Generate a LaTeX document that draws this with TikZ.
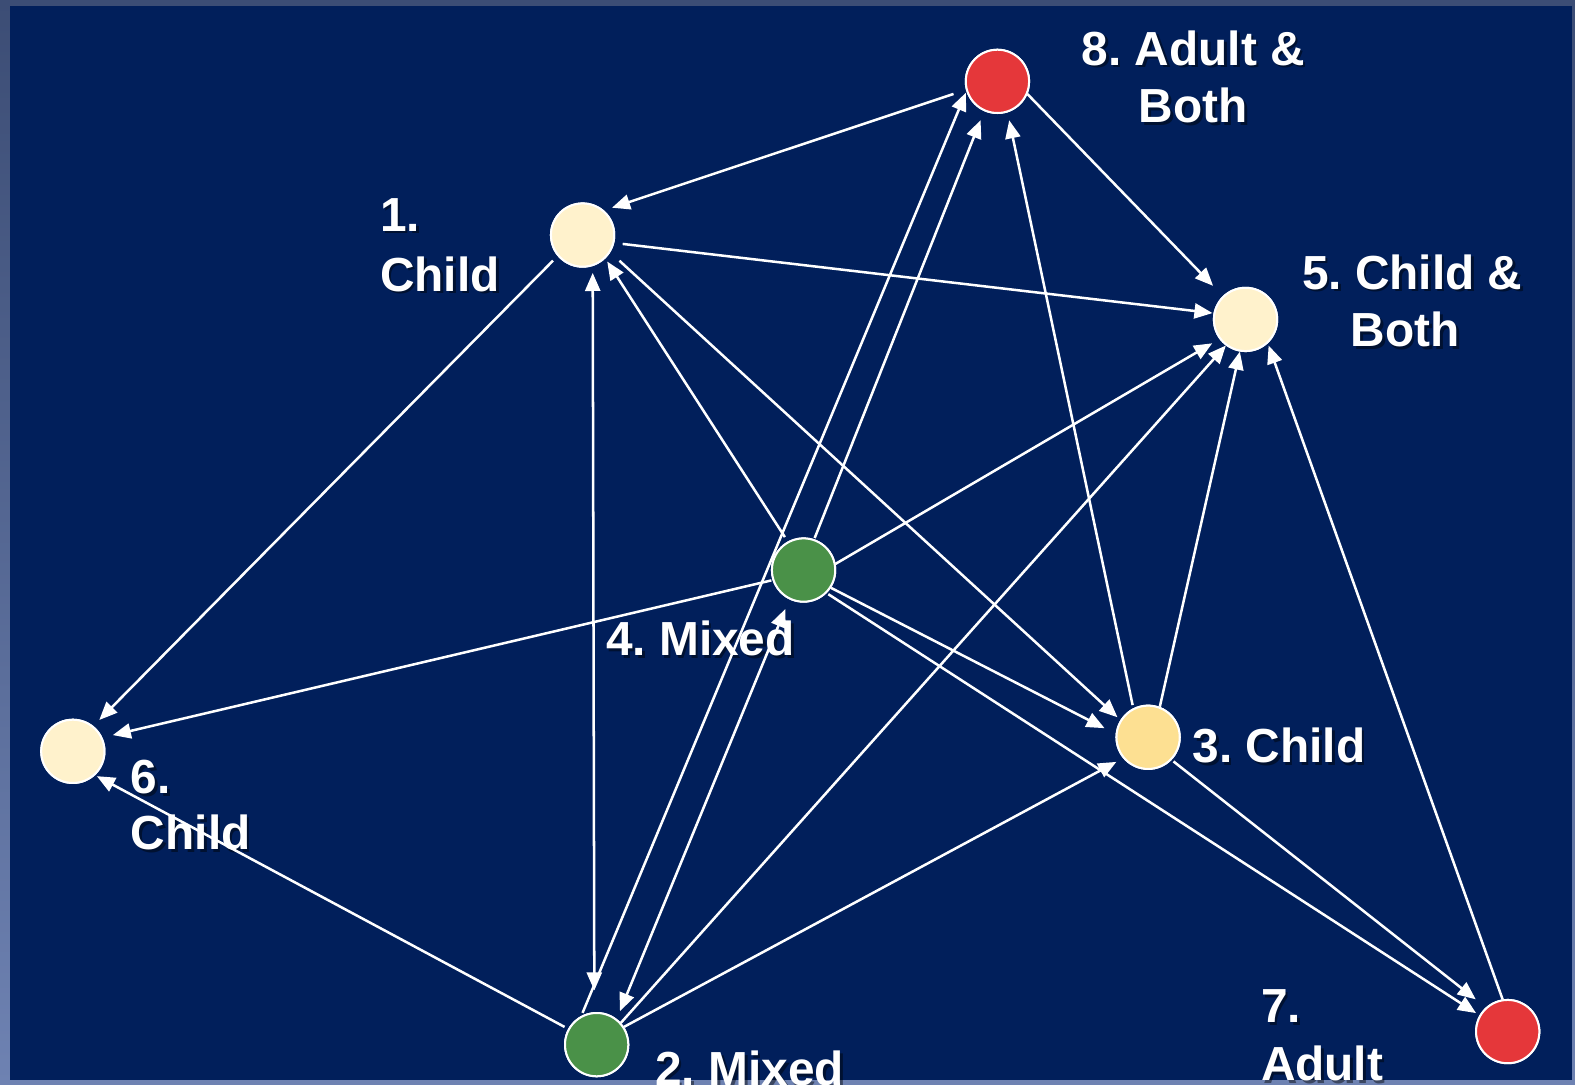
\documentclass[tikz,border=0pt]{standalone}
\usepackage{fontspec}
\setmainfont{Liberation Sans}
\usetikzlibrary{arrows.meta}
\definecolor{bgdark}{HTML}{011F5B}
\definecolor{frametop}{HTML}{3C4D75}
\definecolor{framebot}{HTML}{6E82B2}
\definecolor{creamc}{HTML}{FFF2CC}
\definecolor{yellowc}{HTML}{FDE092}
\definecolor{greenc}{HTML}{4A9148}
\definecolor{redc}{HTML}{E5373A}
\frenchspacing
\newcommand\mylbl[4]{%
  \node[shd,anchor=#3,xshift=1.3pt,yshift=-1.3pt] (#1s) at (#2) {#4};
  \node[lbl,anchor=#3] (#1) at (#2) {#4};}
\begin{document}
\begin{tikzpicture}[x=0.5pt,y=-0.5pt,
  vtx/.style={circle, draw=white, line width=1pt, minimum size=31.5pt, inner sep=0pt},
  creamv/.style={vtx, fill=creamc},
  yellowv/.style={vtx, fill=yellowc},
  greenv/.style={vtx, fill=greenc},
  redv/.style={vtx, fill=redc},
  edge/.style={draw=white, line width=1.25pt, -{Triangle[length=9pt,width=7.5pt]}},
  bothedge/.style={draw=white, line width=1.25pt, {Triangle[length=9pt,width=7.5pt]}-{Triangle[length=9pt,width=7.5pt]}},
  lbl/.style={text=white, font=\fontsize{23.8}{28.5}\selectfont\bfseries\frenchspacing, inner sep=0pt},
  shd/.style={lbl, text=black, text opacity=0.45}
]
% background and frame
\useasboundingbox (0,0) rectangle (1568,1080);
\shade[top color=frametop, bottom color=framebot] (0,0) rectangle (1568,1080);
\fill[bgdark] (10,6) rectangle (1565,1075);

% labels
\mylbl{l8a}{1188,65}{base}{8. Adult \&}
\mylbl{l8b}{1188,122}{base}{Both}
\mylbl{l1a}{378,230}{base west}{1.}
\mylbl{l1b}{378,290}{base west}{Child}
\mylbl{l5a}{1406,288}{base}{5. Child \&}
\mylbl{l5b}{1399,345}{base}{Both}
\mylbl{l4}{603,653}{base west}{4. Mixed}
\mylbl{l3}{1187,759}{base west}{3. Child}
\mylbl{l6a}{130,790}{base west}{6.}
\mylbl{l6b}{130,846}{base west}{Child}
\mylbl{l2}{652,1081}{base west}{2. Mixed}
\mylbl{l7a}{1255,1018}{base west}{7.}
\mylbl{l7b}{1255,1076}{base west}{Adult}

% vertices
\node[redv]    (n8) at (993,81) {};
\node[creamv]  (n1) at (580,234) {};
\node[creamv]  (n5) at (1240,318) {};
\node[greenv]  (n4) at (800,567.5) {};
\node[creamv]  (n6) at (72.5,748) {};
\node[yellowv] (n3) at (1143,734) {};
\node[greenv]  (n2) at (594,1040) {};
\node[redv]    (n7) at (1501,1027) {};

% connectors
\draw[edge, shorten <=6.5pt, shorten >=4.2pt] (n8.195) -- (n1.49);
\draw[edge, shorten <=4.2pt, shorten >=0.5pt] (n1.-14) -- (n5.169);
\draw[edge, shorten <=3.2pt, shorten >=4.2pt] (n1.220) -- (n6.51);
\draw[edge, shorten <=6.2pt, shorten >=2pt] (n1.-32) -- (n3.148.5);
\draw[edge, shorten <=2.6pt, shorten >=1.8pt] (n4.119) -- (n1.-46);
\draw[bothedge, shorten <=3.4pt, shorten >=10.8pt] (n1.-72) -- (n2.94);
\draw[edge, shorten <=1.6pt, shorten >=0.7pt] (n2.118) -- (n8.198);
\draw[edge, shorten <=0.6pt, shorten >=4.8pt] (n4.71) -- (n8.246);
\draw[edge, shorten <=1.6pt, shorten >=4pt] (n3.117) -- (n8.-72);
\draw[edge, shorten >=7pt] (n8.-23) -- (n5.134);
\draw[edge, shorten <=0.6pt, shorten >=5.3pt] (n4.198) -- (n6.25);
\draw[edge, shorten >=4.2pt] (n4.11) -- (n5.217);
\draw[edge] (n2.42) -- (n5.233);
\draw[edge, shorten >=3.8pt] (n2.33) -- (n3.220);
\draw[edge, shorten >=6.2pt] (n4.-33) -- (n3.174.5);
\draw[edge, shorten <=1pt, shorten >=2pt] (n4.-45) -- (n7.150);
\draw[edge, shorten <=1.2pt, shorten >=6.4pt] (n3.-44.5) -- (n7.132.5);
\draw[edge] (n3.69) -- (n5.260);
\draw[edge, shorten >=1.2pt] (n7.99) -- (n5.-47);
\draw[edge, shorten <=2pt, shorten >=1pt] (n2.151) -- (n6.-47);
\draw[bothedge, shorten <=4.2pt, shorten >=5.2pt] (n2.52) -- (n4.244.5);

% redraw vertices on top of connectors
\node[redv]    (m8) at (n8) {};
\node[creamv]  (m1) at (n1) {};
\node[creamv]  (m5) at (n5) {};
\node[greenv]  (m4) at (n4) {};
\node[creamv]  (m6) at (n6) {};
\node[yellowv] (m3) at (n3) {};
\node[greenv]  (m2) at (n2) {};
\node[redv]    (m7) at (n7) {};
\end{tikzpicture}
\end{document}
